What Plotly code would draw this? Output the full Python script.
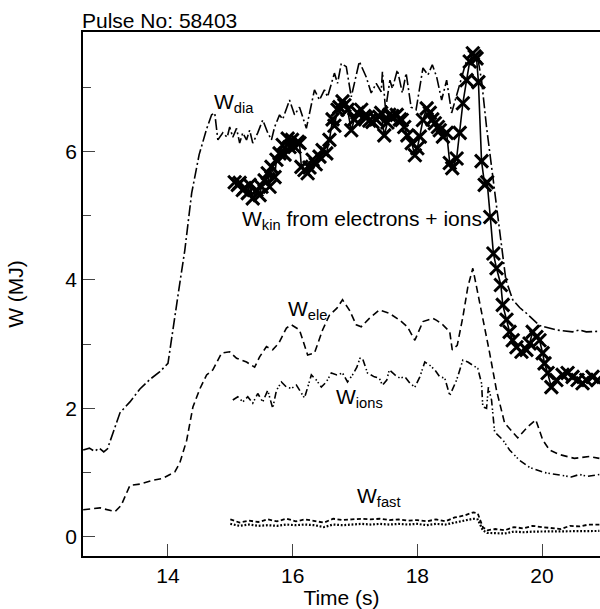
import plotly.graph_objects as go

# ---- stored energy components, pulse 58403 ----
t_dia = [12.64, 12.74, 12.82, 12.90, 12.97, 13.03, 13.23, 13.39, 13.55, 13.71, 13.87, 14.00, 14.19, 14.27,
         14.38, 14.50, 14.62, 14.70, 14.75, 14.80, 14.88, 14.95, 14.99, 15.04, 15.10, 15.15, 15.20, 15.26,
         15.31, 15.36, 15.44, 15.52, 15.60, 15.66, 15.71, 15.79, 15.84, 15.90, 15.95, 16.03, 16.11, 16.22,
         16.35, 16.43, 16.51, 16.56, 16.67, 16.72, 16.78, 16.86, 16.94, 17.07, 17.18, 17.26, 17.34, 17.42,
         17.44, 17.49, 17.56, 17.60, 17.68, 17.76, 17.82, 17.90, 17.98, 18.09, 18.17, 18.24, 18.31, 18.39,
         18.47, 18.55, 18.68, 18.76, 18.81, 18.89, 18.97, 19.03, 19.11, 19.16, 19.21, 19.29, 19.35, 19.42,
         19.53, 19.64, 19.75, 19.96, 20.23, 20.49, 20.60, 20.71, 20.92]
w_dia = [1.35, 1.38, 1.33, 1.38, 1.32, 1.37, 1.93, 2.10, 2.30, 2.45, 2.57, 2.70, 3.95, 4.46,
         5.35, 5.95, 6.35, 6.57, 6.60, 6.18, 6.29, 6.22, 6.38, 6.22, 6.36, 6.13, 6.29, 6.18,
         6.33, 6.13, 6.29, 6.49, 6.29, 6.18, 6.38, 6.57, 6.50, 6.65, 6.80, 6.57, 6.69, 6.36,
         6.96, 6.80, 6.96, 6.85, 7.22, 7.06, 7.37, 7.32, 6.85, 7.40, 7.16, 6.91, 7.06, 6.93,
         7.24, 6.65, 7.11, 6.98, 7.27, 6.91, 7.22, 6.69, 6.65, 7.30, 7.19, 7.35, 7.16, 6.80,
         7.11, 6.60, 7.06, 7.32, 7.47, 7.55, 7.45, 7.11, 6.38, 6.00, 5.55, 4.98, 4.50, 4.00,
         3.69, 3.57, 3.48, 3.29, 3.22, 3.19, 3.22, 3.19, 3.20]

t_kin = [15.07, 15.12, 15.15, 15.20, 15.23, 15.28, 15.31, 15.36, 15.42, 15.47, 15.50, 15.55, 15.60, 15.63,
         15.66, 15.71, 15.74, 15.79, 15.84, 15.87, 15.92, 15.95, 15.99, 16.03, 16.08, 16.11, 16.14, 16.19,
         16.24, 16.27, 16.32, 16.37, 16.43, 16.48, 16.54, 16.59, 16.64, 16.67, 16.72, 16.75, 16.80, 16.83,
         16.88, 16.94, 16.99, 17.04, 17.10, 17.15, 17.18, 17.23, 17.28, 17.34, 17.39, 17.42, 17.47, 17.52,
         17.55, 17.60, 17.67, 17.72, 17.75, 17.79, 17.84, 17.91, 17.96, 18.00, 18.04, 18.09, 18.15, 18.20,
         18.24, 18.28, 18.33, 18.36, 18.41, 18.47, 18.52, 18.56, 18.63, 18.68, 18.73, 18.79, 18.84, 18.89,
         18.92, 18.95, 18.98, 19.03, 19.08, 19.12, 19.17, 19.22, 19.27, 19.34, 19.37, 19.43, 19.48, 19.53,
         19.59, 19.67, 19.75, 19.80, 19.85, 19.91, 19.96, 20.01, 20.04, 20.09, 20.15, 20.23, 20.33, 20.41,
         20.49, 20.57, 20.65, 20.71, 20.81, 20.89]
w_kin = [5.52, 5.48, 5.51, 5.40, 5.43, 5.35, 5.48, 5.27, 5.40, 5.32, 5.45, 5.55, 5.66, 5.45,
         5.76, 5.60, 5.87, 5.97, 6.10, 5.95, 6.20, 6.07, 6.18, 6.07, 6.15, 6.13, 5.76, 5.71,
         5.66, 5.75, 5.87, 5.80, 5.92, 6.02, 5.97, 6.18, 6.50, 6.40, 6.65, 6.69, 6.78, 6.72,
         6.65, 6.33, 6.50, 6.60, 6.65, 6.55, 6.52, 6.48, 6.46, 6.50, 6.54, 6.60, 6.25, 6.45,
         6.57, 6.55, 6.57, 6.50, 6.49, 6.38, 6.25, 6.13, 5.94, 6.05, 6.23, 6.49, 6.67, 6.60,
         6.50, 6.44, 6.38, 6.33, 6.23, 6.29, 5.82, 5.74, 5.89, 6.29, 6.75, 7.11, 7.40, 7.53,
         7.48, 7.45, 7.08, 5.85, 5.48, 5.52, 4.98, 4.41, 4.18, 3.92, 3.61, 3.38, 3.19, 3.06,
         2.95, 2.88, 2.91, 3.01, 3.19, 3.11, 3.06, 2.86, 2.70, 2.55, 2.33, 2.44, 2.52, 2.55,
         2.49, 2.44, 2.39, 2.44, 2.49, 2.44]

t_ele = [12.64, 12.91, 13.15, 13.25, 13.39, 13.55, 13.76, 13.92, 14.11, 14.19, 14.30, 14.40, 14.51, 14.62,
         14.72, 14.86, 14.99, 15.10, 15.26, 15.39, 15.47, 15.58, 15.68, 15.78, 15.90, 15.98, 16.11, 16.24,
         16.35, 16.48, 16.59, 16.71, 16.80, 16.91, 17.02, 17.10, 17.23, 17.39, 17.55, 17.72, 17.84, 17.96,
         18.09, 18.25, 18.31, 18.41, 18.52, 18.56, 18.64, 18.73, 18.81, 18.89, 18.95, 19.05, 19.16, 19.27,
         19.40, 19.61, 19.77, 19.90, 20.01, 20.12, 20.28, 20.52, 20.76, 20.92]
w_ele = [0.42, 0.45, 0.39, 0.49, 0.80, 0.82, 0.88, 0.91, 1.01, 1.15, 1.50, 2.02, 2.30, 2.52,
         2.60, 2.86, 2.88, 2.78, 2.72, 2.64, 2.80, 2.96, 2.91, 3.02, 3.25, 3.30, 3.22, 2.83,
         2.86, 3.22, 3.45, 3.56, 3.69, 3.53, 3.30, 3.27, 3.40, 3.53, 3.48, 3.37, 3.27, 3.06,
         3.35, 3.40, 3.37, 3.30, 3.19, 2.91, 2.98, 3.42, 3.89, 4.18, 3.89, 3.42, 2.86, 2.28,
         1.77, 1.54, 1.71, 1.82, 1.51, 1.35, 1.28, 1.22, 1.25, 1.22]

t_ions = [15.04, 15.12, 15.20, 15.28, 15.36, 15.44, 15.52, 15.60, 15.68, 15.74, 15.82, 15.90, 15.98, 16.06,
          16.19, 16.30, 16.38, 16.46, 16.54, 16.62, 16.71, 16.80, 16.88, 16.96, 17.03, 17.08, 17.12, 17.20,
          17.31, 17.39, 17.44, 17.51, 17.55, 17.64, 17.72, 17.80, 17.88, 17.96, 18.04, 18.12, 18.20, 18.28,
          18.36, 18.44, 18.52, 18.63, 18.73, 18.81, 18.89, 18.97, 19.03, 19.05, 19.11, 19.14, 19.19, 19.24,
          19.37, 19.48, 19.64, 19.80, 20.04, 20.28, 20.47, 20.60, 20.73, 20.92]
w_ions = [2.13, 2.18, 2.10, 2.18, 2.08, 2.23, 2.10, 2.28, 2.00, 2.28, 2.41, 2.33, 2.31, 2.36,
          2.16, 2.52, 2.44, 2.33, 2.41, 2.55, 2.52, 2.55, 2.41, 2.52, 2.64, 2.78, 2.78, 2.55,
          2.49, 2.47, 2.36, 2.44, 2.60, 2.52, 2.47, 2.49, 2.39, 2.33, 2.49, 2.72, 2.67, 2.60,
          2.49, 2.47, 2.20, 2.44, 2.75, 2.72, 2.67, 2.62, 2.39, 2.02, 2.00, 2.33, 2.13, 1.63,
          1.51, 1.35, 1.19, 1.08, 1.00, 0.96, 0.93, 0.97, 0.94, 0.97]

t_fast = [15.00, 15.15, 15.30, 15.45, 15.60, 15.75, 15.90, 16.05, 16.20, 16.35, 16.50, 16.65, 16.80, 16.95,
          17.10, 17.25, 17.40, 17.55, 17.70, 17.85, 18.00, 18.15, 18.30, 18.45, 18.60, 18.75, 18.90, 18.97,
          19.05, 19.12, 19.25, 19.40, 19.55, 19.70, 19.85, 20.00, 20.15, 20.30, 20.45, 20.60, 20.75, 20.92]
w_fast_a = [0.27, 0.22, 0.25, 0.23, 0.27, 0.24, 0.28, 0.24, 0.27, 0.25, 0.22, 0.28, 0.26, 0.27,
            0.28, 0.27, 0.28, 0.26, 0.27, 0.25, 0.26, 0.24, 0.27, 0.24, 0.30, 0.33, 0.38, 0.36,
            0.15, 0.10, 0.12, 0.10, 0.15, 0.13, 0.17, 0.15, 0.14, 0.12, 0.17, 0.16, 0.19, 0.19]
w_fast_b = [0.20, 0.17, 0.19, 0.17, 0.18, 0.17, 0.19, 0.18, 0.19, 0.18, 0.15, 0.19, 0.18, 0.19,
            0.20, 0.19, 0.20, 0.19, 0.20, 0.19, 0.20, 0.18, 0.20, 0.19, 0.22, 0.24, 0.28, 0.27,
            0.10, 0.06, 0.06, 0.05, 0.08, 0.07, 0.08, 0.08, 0.09, 0.08, 0.09, 0.08, 0.09, 0.09]

x_ticks = [14, 16, 18, 20]
y_ticks = [0, 2, 4, 6]

FONT = "Liberation Sans, Arial, Helvetica, sans-serif"
INK = "black"

fig = go.Figure()

def curve(x, y, dash, width=1.6):
    fig.add_trace(go.Scatter(x=x, y=y, mode="lines", showlegend=False, hoverinfo="skip",
                             line=dict(color=INK, width=width, dash=dash)))

curve(t_dia, w_dia, "11px,3px,2px,3px")
curve(t_ele, w_ele, "7px,4px")
curve(t_ions, w_ions, "7px,3px,1.5px,2px,1.5px,3px")
curve(t_fast, w_fast_a, "4px,2.5px", width=1.8)
curve(t_fast, w_fast_b, "1.8px,1.8px", width=2.2)

fig.add_trace(go.Scatter(
    x=t_kin, y=w_kin, mode="lines+markers", showlegend=False, hoverinfo="skip",
    line=dict(color=INK, width=1.6),
    marker=dict(symbol="x-thin", size=13, color=INK, line=dict(color=INK, width=3)),
))

labels = [
    (14.70, 6.75, "W<sub>dia</sub>"),
    (15.16, 4.93, "W<sub>kin</sub> from electrons + ions"),
    (15.89, 3.53, "W<sub>ele</sub>"),
    (16.67, 2.16, "W<sub>ions</sub>"),
    (17.00, 0.62, "W<sub>fast</sub>"),
]
for x, y, txt in labels:
    fig.add_annotation(x=x, y=y, text=txt, showarrow=False, xanchor="left", yanchor="middle",
                       font=dict(family=FONT, size=21, color=INK))

fig.add_annotation(text="Pulse No: 58403", xref="paper", yref="paper", x=0, y=1,
                   xanchor="left", yanchor="bottom", xshift=-3, yshift=-2, showarrow=False,
                   font=dict(family=FONT, size=21, color=INK))

fig.update_layout(
    width=600, height=609,
    margin=dict(l=83, r=0, t=32, b=53),
    paper_bgcolor="white", plot_bgcolor="white",
    font=dict(family=FONT, size=21, color=INK),
    xaxis=dict(
        range=[12.637, 20.93], tickvals=x_ticks, ticktext=[str(v) for v in x_ticks],
        ticks="inside", ticklen=12, tickwidth=1.2, tickcolor="#444",
        showline=True, linecolor=INK, linewidth=1.5, mirror=True,
        showgrid=False, zeroline=False,
        title=dict(text="Time (s)", standoff=5, font=dict(size=21)),
    ),
    yaxis=dict(
        range=[-0.30, 7.86], tickvals=y_ticks, ticktext=[str(v) for v in y_ticks],
        ticks="inside", ticklen=12, tickwidth=1.2, tickcolor="#444",
        minor=dict(tickvals=[1, 3, 5, 7], ticks="inside", ticklen=8, tickwidth=1.2, tickcolor="#444"),
        showline=True, linecolor=INK, linewidth=1.5, mirror=False,
        showgrid=False, zeroline=False,
        title=dict(text="W (MJ)", standoff=36, font=dict(size=21)),
    ),
)

fig.write_html("out.html")
